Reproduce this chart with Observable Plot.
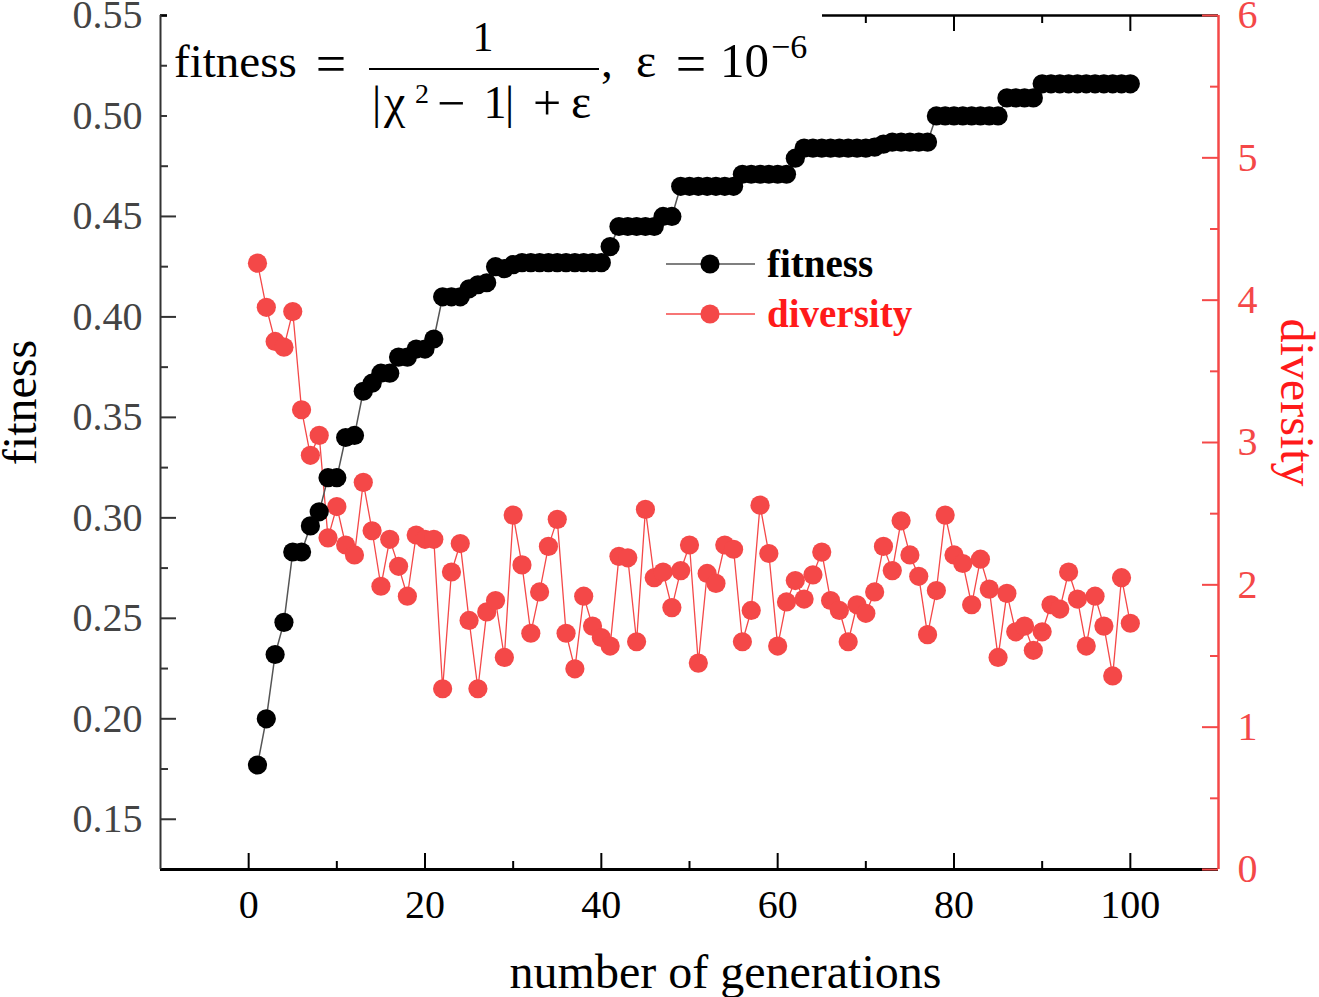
<!DOCTYPE html>
<html>
<head>
<meta charset="utf-8">
<script src="https://cdn.jsdelivr.net/npm/d3@7"></script>
<script src="https://cdn.jsdelivr.net/npm/@observablehq/plot@0.6"></script>
<style>
  body { margin: 0; background: #fff; }
  #wrap { position: relative; width: 1319px; height: 997px; overflow: hidden; font-family: "Liberation Serif", "Times New Roman", serif; }
  #wrap > svg { position: absolute; left: 0; top: 0; overflow: visible; }
</style>
</head>
<body>
<div id="wrap"></div>
<script>
// ---------- data ----------
const generations = Array.from({length: 100}, (_, i) => i + 1);

const fitness = [
  0.177, 0.200, 0.232, 0.248, 0.283, 0.283, 0.296, 0.303, 0.320, 0.320,
  0.340, 0.341, 0.363, 0.367, 0.372, 0.372, 0.380, 0.380, 0.384, 0.384,
  0.389, 0.410, 0.410, 0.410, 0.414, 0.416, 0.417, 0.425, 0.424, 0.426,
  0.427, 0.427, 0.427, 0.427, 0.427, 0.427, 0.427, 0.427, 0.427, 0.427,
  0.435, 0.445, 0.445, 0.445, 0.445, 0.445, 0.450, 0.450, 0.465, 0.465,
  0.465, 0.465, 0.465, 0.465, 0.465, 0.471, 0.471, 0.471, 0.471, 0.471,
  0.471, 0.479, 0.484, 0.484, 0.484, 0.484, 0.484, 0.484, 0.484, 0.484,
  0.4845, 0.486, 0.487, 0.487, 0.487, 0.487, 0.487, 0.500, 0.500, 0.500,
  0.500, 0.500, 0.500, 0.500, 0.500, 0.509, 0.509, 0.509, 0.509, 0.516,
  0.516, 0.516, 0.516, 0.516, 0.516, 0.516, 0.516, 0.516, 0.516, 0.516
];

const diversity = [
  4.26, 3.95, 3.71, 3.67, 3.92, 3.23, 2.91, 3.05, 2.33, 2.55,
  2.28, 2.21, 2.72, 2.38, 1.99, 2.32, 2.13, 1.92, 2.35, 2.32,
  2.32, 1.27, 2.09, 2.29, 1.75, 1.27, 1.81, 1.89, 1.49, 2.49,
  2.14, 1.66, 1.95, 2.27, 2.46, 1.66, 1.41, 1.92, 1.71, 1.63,
  1.57, 2.20, 2.19, 1.60, 2.53, 2.05, 2.09, 1.84, 2.10, 2.28,
  1.45, 2.08, 2.01, 2.28, 2.25, 1.60, 1.82, 2.56, 2.22, 1.57,
  1.88, 2.03, 1.90, 2.07, 2.23, 1.89, 1.82, 1.60, 1.86, 1.80,
  1.95, 2.27, 2.10, 2.45, 2.21, 2.06, 1.65, 1.96, 2.49, 2.21,
  2.15, 1.86, 2.18, 1.97, 1.49, 1.94, 1.67, 1.71, 1.54, 1.67,
  1.86, 1.83, 2.09, 1.90, 1.57, 1.92, 1.71, 1.36, 2.05, 1.73
];

const xMajorTicks = [0, 20, 40, 60, 80, 100];
const xMinorTicks = [10, 30, 50, 70, 90];
const fitnessMajorTicks = [0.15, 0.20, 0.25, 0.30, 0.35, 0.40, 0.45, 0.50, 0.55];
const fitnessMinorTicks = [0.175, 0.225, 0.275, 0.325, 0.375, 0.425, 0.475, 0.525];
const diversityMajorTicks = [0, 1, 2, 3, 4, 5, 6];
const diversityMinorTicks = [0.5, 1.5, 2.5, 3.5, 4.5, 5.5];

const xDomain = [-10, 110];
const fitnessDomain = [0.125, 0.55];
const diversityDomain = [0, 6];

const xTitle = "number of generations";
const fitnessTitle = "fitness";
const diversityTitle = "diversity";

// ---------- styles ----------
const RED = "#f44848";
const RED_TEXT = "#ff1a1a";
const W = 1319, H = 997;
const mL = 160, mR = 101, mT = 15, mB = 128;
const FW = W - mL - mR, FH = H - mT - mB;
const FONT = "'Liberation Serif', 'Times New Roman', serif";
const R = 9.6;

// map diversity onto the fitness axis (dual axis)
const divToY = d3.scaleLinear(diversityDomain, fitnessDomain);
const rows = generations.map((g, i) => ({g, fitness: fitness[i], diversity: diversity[i]}));

const chart = Plot.plot({
  width: W, height: H,
  marginLeft: mL, marginRight: mR, marginTop: mT, marginBottom: mB,
  style: {fontFamily: FONT, fontSize: "40px", background: "transparent", color: "#000", overflow: "visible"},
  x: {domain: xDomain},
  y: {domain: fitnessDomain},
  marks: [
    // inward ticks: bottom & top
    Plot.ruleX(xMajorTicks, {insetTop: FH - 16, stroke: "#000", strokeWidth: 2}),
    Plot.ruleX(xMinorTicks, {insetTop: FH - 8, stroke: "#000", strokeWidth: 2}),
    Plot.ruleX(xMajorTicks, {insetBottom: FH - 16, stroke: "#000", strokeWidth: 2}),
    Plot.ruleX(xMinorTicks, {insetBottom: FH - 8, stroke: "#000", strokeWidth: 2}),
    // inward ticks: left
    Plot.ruleY(fitnessMajorTicks, {insetRight: FW - 16, stroke: "#333", strokeWidth: 2}),
    Plot.ruleY(fitnessMinorTicks, {insetRight: FW - 8, stroke: "#333", strokeWidth: 2}),
    // frame lines
    Plot.ruleY([fitnessDomain[0]], {stroke: "#000", strokeWidth: 3}),
    Plot.ruleY([fitnessDomain[1]], {stroke: "#000", strokeWidth: 2.5}),
    Plot.ruleX([xDomain[0]], {stroke: "#333", strokeWidth: 2}),
    // right (diversity) axis
    Plot.ruleY(diversityMajorTicks.map(divToY), {insetLeft: FW - 16, stroke: RED, strokeWidth: 2}),
    Plot.ruleY(diversityMinorTicks.map(divToY), {insetLeft: FW - 8, stroke: RED, strokeWidth: 2}),
    Plot.ruleX([xDomain[1]], {stroke: RED, strokeWidth: 2.5}),
    // tick labels
    Plot.axisX({ticks: xMajorTicks, tickSize: 0, tickPadding: 20, fill: "#000", label: null}),
    Plot.axisY({ticks: fitnessMajorTicks, tickSize: 0, tickPadding: 18, tickFormat: d3.format(".2f"), fill: "#444", label: null}),
    Plot.axisY({anchor: "right", ticks: diversityMajorTicks.map(divToY), tickSize: 0, tickPadding: 19,
      tickFormat: d => String(Math.round(divToY.invert(d))), fill: RED, label: null}),
    // axis titles
    Plot.text([xTitle], {text: d => d, frameAnchor: "bottom", textAnchor: "middle", lineAnchor: "middle",
      dx: 36, dy: 103, fontSize: 48, fill: "#000"}),
    Plot.text([fitnessTitle], {text: d => d, frameAnchor: "left", textAnchor: "middle", lineAnchor: "middle",
      dx: -140, dy: -40, rotate: -90, fontSize: 48, fill: "#000"}),
    Plot.text([diversityTitle], {text: d => d, frameAnchor: "right", textAnchor: "middle", lineAnchor: "middle",
      dx: 78, dy: -40, rotate: 90, fontSize: 48, fill: RED_TEXT}),
    // diversity series
    Plot.line(rows, {x: "g", y: d => divToY(d.diversity), stroke: RED, strokeWidth: 1.3}),
    Plot.dot(rows, {x: "g", y: d => divToY(d.diversity), r: R, fill: RED}),
    // fitness series
    Plot.line(rows, {x: "g", y: "fitness", stroke: "#555", strokeWidth: 1.5}),
    Plot.dot(rows, {x: "g", y: "fitness", r: R, fill: "#000"})
  ]
});

const wrap = document.getElementById("wrap");
wrap.appendChild(chart);

// ---------- formula annotation ----------
const f = d3.create("svg").attr("width", 830).attr("height", 135)
  .style("font-family", FONT).style("pointer-events", "none");
f.append("rect").attr("x", 167).attr("y", 0).attr("width", 655).attr("height", 128).attr("fill", "#fff");
const t = (x, y, s, size, anchor = "start") =>
  f.append("text").attr("x", x).attr("y", y).attr("font-size", size).attr("text-anchor", anchor).attr("fill", "#000").text(s);
t(174, 77, "fitness", 47);
t(331, 82, "=", 54, "middle");
t(483, 51, "1", 42, "middle");
f.append("line").attr("x1", 369).attr("x2", 599).attr("y1", 69).attr("y2", 69).attr("stroke", "#000").attr("stroke-width", 2);
t(372, 118, "|", 46);
t(384, 118, "χ", 48);
t(415, 103, "2", 28);
t(451, 120, "−", 50, "middle");
t(495, 118, "1", 46, "middle");
t(505, 118, "|", 46);
t(547, 120, "+", 50, "middle");
t(571, 118, "ε", 48);
t(601, 77, ",", 47);
t(636, 77, "ε", 48);
t(691, 82, "=", 54, "middle");
t(720, 77, "10", 49);
t(771, 58, "−6", 34);
wrap.appendChild(f.node());

// ---------- legend ----------
const lg = d3.create("svg").attr("width", 280).attr("height", 110)
  .style("left", "660px").style("top", "234px").style("font-family", FONT);
const legendItems = [
  {label: "fitness", line: "#555", dot: "#000", text: "#000", y: 30},
  {label: "diversity", line: RED, dot: RED, text: RED_TEXT, y: 80}
];
for (const it of legendItems) {
  lg.append("line").attr("x1", 6).attr("x2", 95).attr("y1", it.y).attr("y2", it.y).attr("stroke", it.line).attr("stroke-width", 1.5);
  lg.append("circle").attr("cx", 50).attr("cy", it.y).attr("r", R).attr("fill", it.dot);
  lg.append("text").attr("x", 107).attr("y", it.y + 13).attr("font-size", 39).attr("font-weight", "bold").attr("fill", it.text).text(it.label);
}
wrap.appendChild(lg.node());
</script>
</body>
</html>
